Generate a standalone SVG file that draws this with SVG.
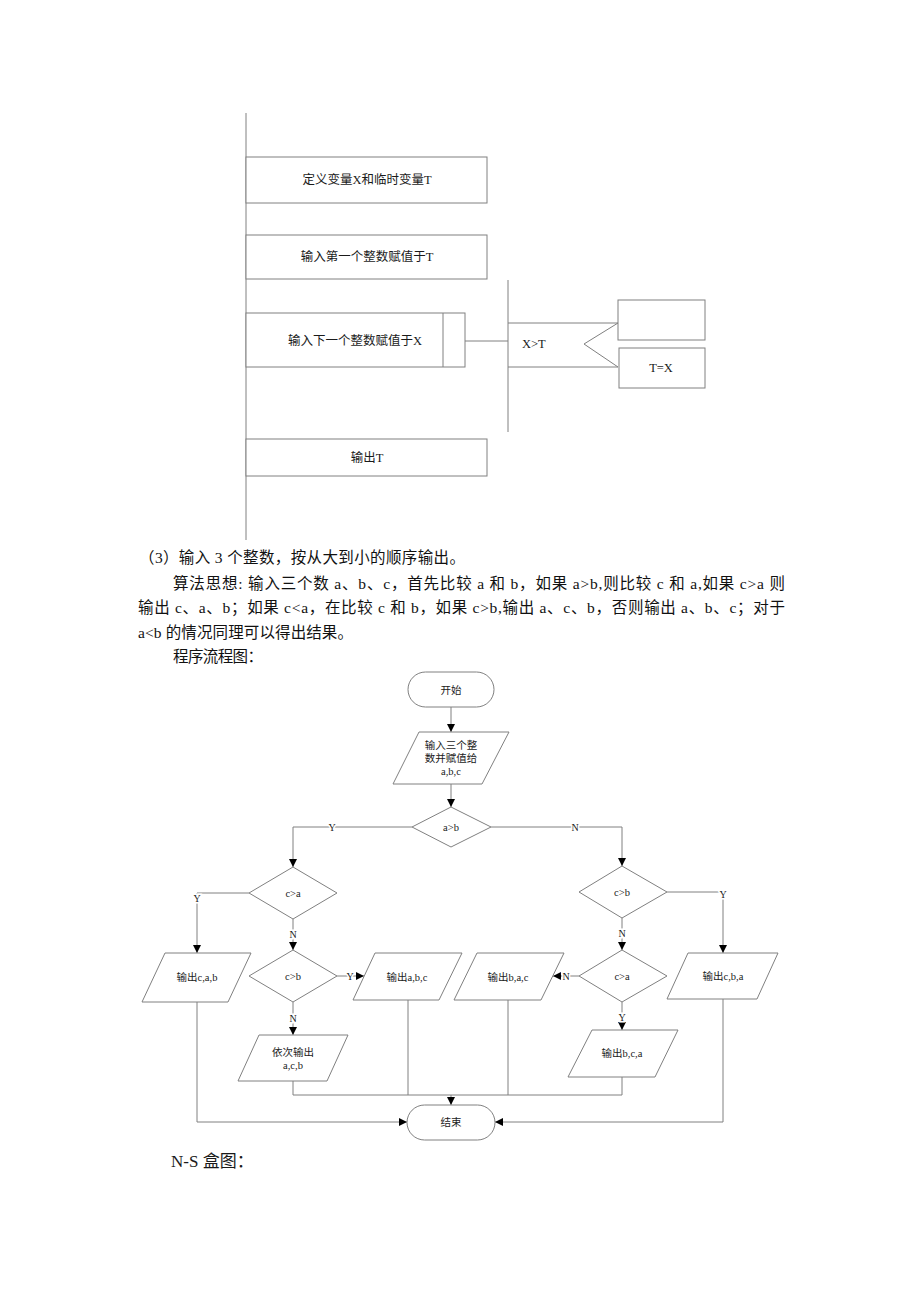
<svg xmlns="http://www.w3.org/2000/svg" width="920" height="1302" viewBox="0 0 920 1302">
<style>
.ln{fill:none;stroke:#808080;stroke-width:1}
.sh{fill:#fff;stroke:#808080;stroke-width:1}
.t{font-family:"Liberation Serif","Noto Sans CJK SC",serif;fill:#1a1a1a}
.ns{font-size:12.5px;text-anchor:middle;dominant-baseline:central}
.fc{font-size:10.5px;text-anchor:middle;dominant-baseline:central}
.lb{font-size:10px;text-anchor:middle;dominant-baseline:central;stroke:#fff;stroke-width:3;paint-order:stroke}
.p{font-size:15.5px;fill:#111}
</style>
<defs>
<marker id="ah" viewBox="0 0 8 8" refX="8" refY="4" markerWidth="8" markerHeight="8" markerUnits="userSpaceOnUse" orient="auto">
<path d="M0,0 L8,4 L0,8 z" fill="#000"/>
</marker>
</defs>
<rect width="920" height="1302" fill="#fff"/>

<g id="ns-top">
<line class="ln" x1="246" y1="113" x2="246" y2="540"/>
<g id="ns-define"><rect class="sh" x="246" y="157" width="241" height="46"/><text class="t ns" x="367" y="180">定义变量X和临时变量T</text></g>
<g id="ns-input1"><rect class="sh" x="246" y="235" width="241" height="44"/><text class="t ns" x="367" y="257">输入第一个整数赋值于T</text></g>
<g id="ns-input-next"><rect class="sh" x="246" y="313" width="219" height="54"/><line class="ln" x1="443" y1="313" x2="443" y2="367"/><text class="t ns" x="355" y="341">输入下一个整数赋值于X</text></g>
<g id="ns-loop">
<line class="ln" x1="465" y1="341" x2="508" y2="341"/>
<line class="ln" x1="508" y1="280" x2="508" y2="432"/>
<line class="ln" x1="508" y1="323" x2="618" y2="323"/>
<line class="ln" x1="508" y1="367" x2="618" y2="367"/>
<polyline class="ln" points="618,323 584,344 618,367"/>
<text class="t" x="522" y="344" font-size="12.5" dominant-baseline="central">X&gt;T</text>
</g>
<g id="ns-empty"><rect class="sh" x="618" y="300" width="87" height="40"/></g>
<g id="ns-assign"><rect class="sh" x="619" y="348" width="86" height="40"/><text class="t ns" x="661" y="368">T=X</text></g>
<g id="ns-output"><rect class="sh" x="246" y="439" width="241" height="37"/><text class="t ns" x="367" y="458">输出T</text></g>
</g>

<g id="paragraph">
<text class="t p" x="139" y="563" textLength="326" lengthAdjust="spacing">（3）输入 3 个整数，按从大到小的顺序输出。</text>
<text class="t p" x="173" y="589" textLength="612" lengthAdjust="spacing">算法思想: 输入三个数 a、b、c，首先比较 a 和 b，如果 a&gt;b,则比较 c 和 a,如果 c&gt;a 则</text>
<text class="t p" x="138" y="613" textLength="647" lengthAdjust="spacing">输出 c、a、b；如果 c&lt;a，在比较 c 和 b，如果 c&gt;b,输出 a、c、b，否则输出 a、b、c；对于</text>
<text class="t p" x="138" y="638" textLength="215" lengthAdjust="spacing">a&lt;b 的情况同理可以得出结果。</text>
<text class="t p" x="173" y="662" textLength="90" lengthAdjust="spacing">程序流程图：</text>
</g>

<g id="connectors">
<path class="ln" d="M451,707 V732" marker-end="url(#ah)"/>
<path class="ln" d="M451,784 V807" marker-end="url(#ah)"/>
<path class="ln" d="M412,827 H293 V867" marker-end="url(#ah)"/>
<path class="ln" d="M491,827 H622 V866" marker-end="url(#ah)"/>
<path class="ln" d="M249,893 H197 V953" marker-end="url(#ah)"/>
<path class="ln" d="M293,919 V950" marker-end="url(#ah)"/>
<path class="ln" d="M337,976 H364" marker-end="url(#ah)"/>
<path class="ln" d="M293,1002 V1035" marker-end="url(#ah)"/>
<path class="ln" d="M667,892 H723 V953" marker-end="url(#ah)"/>
<path class="ln" d="M622,918 V950" marker-end="url(#ah)"/>
<path class="ln" d="M579,976 H553" marker-end="url(#ah)"/>
<path class="ln" d="M622,1002 V1030" marker-end="url(#ah)"/>
<path class="ln" d="M197,1002 V1122 H407" marker-end="url(#ah)"/>
<path class="ln" d="M723,999 V1122 H495" marker-end="url(#ah)"/>
<path class="ln" d="M293,1081 V1095 H622 V1077"/>
<path class="ln" d="M408,1000 V1095"/>
<path class="ln" d="M508,1000 V1095"/>
<path class="ln" d="M451,1095 V1105" marker-end="url(#ah)"/>
<text class="t lb" x="332" y="827">Y</text>
<text class="t lb" x="575" y="827">N</text>
<text class="t lb" x="197" y="898">Y</text>
<text class="t lb" x="293" y="934">N</text>
<text class="t lb" x="350" y="976">Y</text>
<text class="t lb" x="293" y="1018">N</text>
<text class="t lb" x="723" y="894">Y</text>
<text class="t lb" x="622" y="933">N</text>
<text class="t lb" x="566" y="976">N</text>
<text class="t lb" x="622" y="1017">Y</text>
</g>

<g id="start"><rect class="sh" x="408" y="672" width="86" height="35" rx="17.5"/><text class="t fc" x="451" y="690">开始</text></g>
<g id="input"><polygon class="sh" points="419,732 509,732 482,784 393,784"/><text class="t fc" x="451" y="745">输入三个整</text><text class="t fc" x="451" y="758">数并赋值给</text><text class="t fc" x="451" y="771">a,b,c</text></g>
<g id="d-ab"><polygon class="sh" points="451,807 491,827 451,847 412,827"/><text class="t fc" x="451" y="827">a&gt;b</text></g>
<g id="d-ca-left"><polygon class="sh" points="293,867 337,893 293,919 249,893"/><text class="t fc" x="293" y="893">c&gt;a</text></g>
<g id="out-cab"><polygon class="sh" points="165,953 251,953 228,1002 142,1002"/><text class="t fc" x="197" y="977">输出c,a,b</text></g>
<g id="d-cb-left"><polygon class="sh" points="293,950 337,976 293,1002 249,976"/><text class="t fc" x="293" y="976">c&gt;b</text></g>
<g id="out-abc"><polygon class="sh" points="375,953 462,953 439,1000 353,1000"/><text class="t fc" x="407" y="977">输出a,b,c</text></g>
<g id="out-acb"><polygon class="sh" points="259,1035 348,1035 327,1081 238,1081"/><text class="t fc" x="293" y="1052">依次输出</text><text class="t fc" x="293" y="1065">a,c,b</text></g>
<g id="out-bac"><polygon class="sh" points="477,953 564,953 541,1000 454,1000"/><text class="t fc" x="508" y="977">输出b,a,c</text></g>
<g id="d-cb-right"><polygon class="sh" points="622,866 667,892 622,918 579,892"/><text class="t fc" x="622" y="892">c&gt;b</text></g>
<g id="d-ca-right"><polygon class="sh" points="622,950 667,976 622,1002 579,976"/><text class="t fc" x="622" y="976">c&gt;a</text></g>
<g id="out-cba"><polygon class="sh" points="688,953 778,953 757,999 667,999"/><text class="t fc" x="723" y="976">输出c,b,a</text></g>
<g id="out-bca"><polygon class="sh" points="592,1030 678,1030 655,1077 568,1077"/><text class="t fc" x="622" y="1053">输出b,c,a</text></g>
<g id="end"><rect class="sh" x="407" y="1105" width="88" height="35" rx="17.5"/><text class="t fc" x="451" y="1122">结束</text></g>

<g id="caption"><text class="t" x="171" y="1167" font-size="17" fill="#111">N-S 盒图：</text></g>
</svg>
